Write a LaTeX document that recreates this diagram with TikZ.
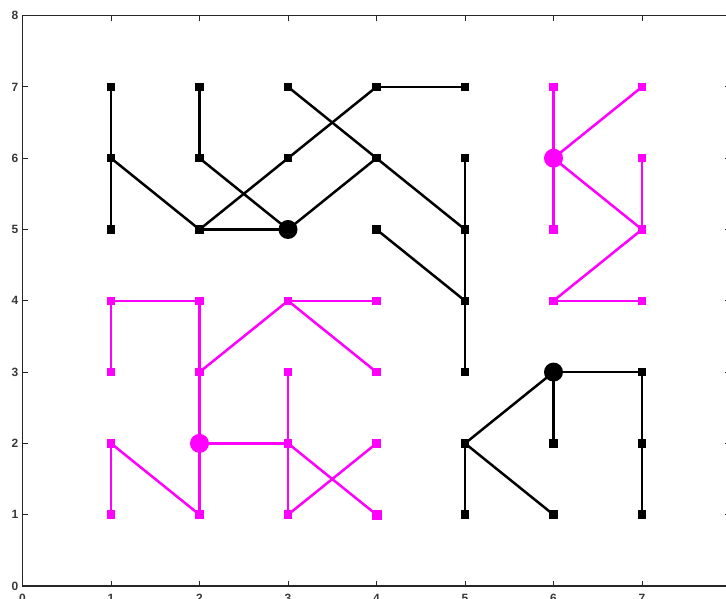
\documentclass[tikz,border=0pt]{standalone}
\usepackage{fontspec}
\setmainfont{Liberation Sans}
\setsansfont{Liberation Sans}
\begin{document}
\begin{tikzpicture}[x=88.5pt,y=71.3pt,
  axisline/.style={line width=1.8pt,draw=black!85},
  tickline/.style={line width=1pt,draw=black!85},
  ticklabel/.style={font=\sffamily\bfseries\fontsize{12}{12}\selectfont,text=black!78,inner sep=0pt},
  sq/.style={rectangle,fill=#1,minimum size=8.5pt,inner sep=0pt},
  big/.style={circle,fill=#1,minimum size=19pt,inner sep=0pt},
  edge/.style={line width=2.5pt,draw=#1},
]
\definecolor{mag}{RGB}{255,0,255}
\useasboundingbox (-22.5pt,-13pt) rectangle (703.5pt,586pt);
\begin{scope}
\clip (-22.5pt,-13pt) rectangle (703.5pt,586pt);
% axes box
\draw[axisline] (0,0) rectangle (8,8);
\foreach \i in {1,...,7} {
  \draw[tickline] (\i,0) -- ++(0,5pt);
  \draw[tickline] (\i,8) -- ++(0,-5pt);
  \draw[tickline] (0,\i) -- ++(5pt,0);
  \draw[tickline] (8,\i) -- ++(-6pt,0);
}
\foreach \i in {0,...,8} {
  \node[ticklabel,anchor=east] (yl\i) at ([xshift=-4pt]0,\i) {\i};
}
\foreach \i in {0,...,7} {
  \node[ticklabel,anchor=north] (xl\i) at ([yshift=-8pt]\i,0) {\i};
}

% ---- black nodes ----
\foreach \x/\y in {1/7,1/6,1/5,2/7,2/6,2/5,3/7,3/6,4/7,4/6,4/5,5/7,5/6,5/5,5/4,5/3,5/2,5/1,6/2,6/1,7/3,7/2,7/1}
  \node[sq=black] (b\x\y) at (\x,\y) {};
\node[big=black] (b35) at (3,5) {};
\node[big=black] (b63) at (6,3) {};

% ---- magenta nodes ----
\foreach \x/\y in {6/7,6/5,7/7,7/6,7/5,6/4,7/4,1/4,2/4,1/3,2/3,3/4,4/4,4/3,3/3,1/2,3/2,4/2,1/1,2/1,3/1}
  \node[sq=mag] (m\x\y) at (\x,\y) {};
\node[sq=mag,minimum size=10pt] (m41) at (4,1) {};
\node[big=mag] (m66) at (6,6) {};
\node[big=mag] (m22) at (2,2) {};

% ---- black edges ----
\foreach \a/\b in {17/16,16/15,16/25,27/26,26/35,25/35,25/36,36/47,47/57,37/46,46/55,35/46,45/54,56/55,55/54,54/53,
                   52/63,52/51,52/61,63/62,63/73,73/72,72/71}
  \draw[edge=black] (b\a.center) -- (b\b.center);

% ---- magenta edges ----
\foreach \a/\b in {67/66,66/65,66/77,66/75,76/75,75/64,64/74,
                   14/24,14/13,24/23,23/34,34/44,34/43,23/22,22/21,22/32,12/11,12/21,33/32,32/31,32/41,31/42}
  \draw[edge=mag] (m\a.center) -- (m\b.center);
\end{scope}
\end{tikzpicture}
\end{document}
